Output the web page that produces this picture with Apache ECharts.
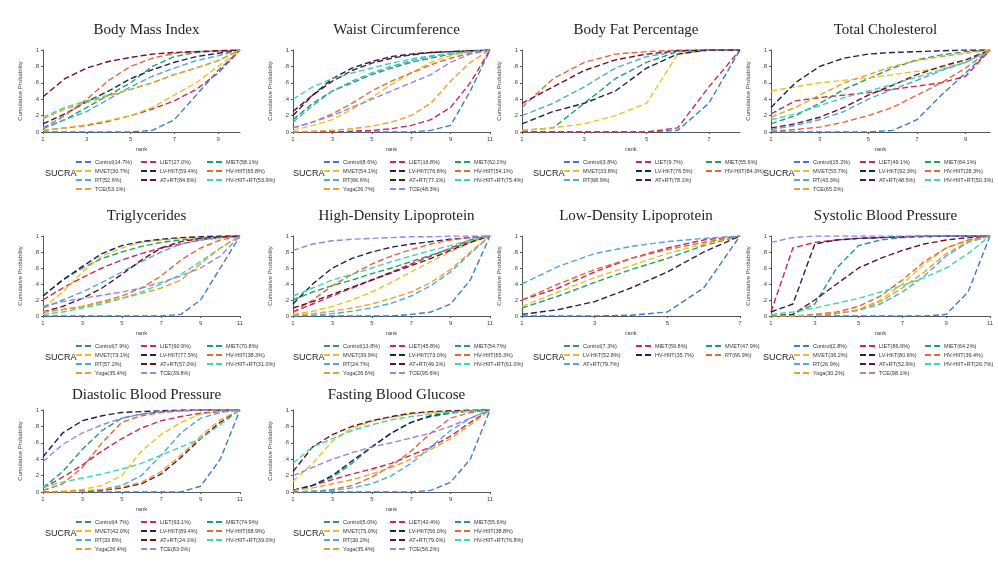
<!DOCTYPE html>
<html><head><meta charset="utf-8">
<script src="https://cdn.jsdelivr.net/npm/echarts@6/dist/echarts.min.js"></script>
<style>html,body{margin:0;background:#fff}#main{width:998px;height:564px}</style>
</head><body><div id="main"></div>
<script>
var slotColors = ['#3b7dc9', '#c8285a', '#1f9e6e', '#e6c520', '#1f1f5c', '#e2683a', '#4ea8da', '#6a0f2a', '#3fd6ae', '#e8a030', '#8f86e6'];

var titles = ['Body Mass Index', 'Waist Circumference', 'Body Fat Percentage', 'Total Cholesterol',
  'Triglycerides', 'High-Density Lipoprotein', 'Low-Density Lipoprotein', 'Systolic Blood Pressure',
  'Diastolic Blood Pressure', 'Fasting Blood Glucose'];

var legendBMI = ['Control(14.7%)', 'LIET(27.0%)', 'MIET(58.1%)', 'MVET(30.7%)', 'LV-HIIT(59.4%)', 'HV-HIIT(65.8%)', 'RT(52.6%)', 'AT+RT(84.6%)', 'HV-HIIT+RT(53.9%)', 'TCE(53.1%)'];
var legendWaist = ['Control(8.6%)', 'LIET(16.8%)', 'MIET(62.2%)', 'MVET(54.1%)', 'LV-HIIT(76.8%)', 'HV-HIIT(54.1%)', 'RT(66.6%)', 'AT+RT(77.1%)', 'HV-HIIT+RT(75.4%)', 'Yoga(26.7%)', 'TCE(48.3%)'];
var legendFat = ['Control(3.8%)', 'LIET(9.7%)', 'MIET(55.6%)', 'MVET(33.8%)', 'LV-HIIT(76.5%)', 'HV-HIIT(84.3%)', 'RT(68.9%)', 'AT+RT(78.1%)'];
var legendTC = ['Control(15.2%)', 'LIET(49.1%)', 'MIET(64.1%)', 'MVET(55.7%)', 'LV-HIIT(92.3%)', 'HV-HIIT(28.3%)', 'RT(43.3%)', 'AT+RT(48.5%)', 'HV-HIIT+RT(50.3%)', 'TCE(65.2%)'];
var legendTG = ['Control(7.9%)', 'LIET(60.9%)', 'MIET(70.8%)', 'MVET(73.1%)', 'LV-HIIT(77.5%)', 'HV-HIIT(38.3%)', 'RT(57.2%)', 'AT+RT(57.0%)', 'HV-HIIT+RT(31.0%)', 'Yoga(35.4%)', 'TCE(39.8%)'];
var legendHDL = ['Control(13.8%)', 'LIET(45.8%)', 'MIET(54.7%)', 'MVET(39.9%)', 'LV-HIIT(73.0%)', 'HV-HIIT(65.3%)', 'RT(24.7%)', 'AT+RT(49.1%)', 'HV-HIIT+RT(61.0%)', 'Yoga(26.6%)', 'TCE(95.6%)'];
var legendLDL = ['Control(7.3%)', 'MIET(59.8%)', 'MVET(47.9%)', 'LV-HIIT(52.8%)', 'HV-HIIT(35.7%)', 'RT(66.9%)', 'AT+RT(79.7%)'];
var legendSBP = ['Control(2.8%)', 'LIET(86.9%)', 'MIET(64.2%)', 'MVET(36.2%)', 'LV-HIIT(80.6%)', 'HV-HIIT(39.4%)', 'RT(26.9%)', 'AT+RT(52.9%)', 'HV-HIIT+RT(26.7%)', 'Yoga(30.2%)', 'TCE(98.1%)'];
var legendDBP = ['Control(4.7%)', 'LIET(63.1%)', 'MIET(74.9%)', 'MVET(42.0%)', 'LV-HIIT(89.4%)', 'HV-HIIT(68.9%)', 'RT(33.8%)', 'AT+RT(24.1%)', 'HV-HIIT+RT(39.0%)', 'Yoga(26.4%)', 'TCE(83.0%)'];
var legendFBG = ['Control(5.0%)', 'LIET(40.4%)', 'MIET(55.6%)', 'MVET(75.0%)', 'LV-HIIT(56.0%)', 'HV-HIIT(38.8%)', 'RT(30.2%)', 'AT+RT(79.0%)', 'HV-HIIT+RT(76.8%)', 'Yoga(35.4%)', 'TCE(56.2%)'];

var dataBMI = [
  [0,0,0,0,0,.02,.15,.45,.75,1],
  [.02,.05,.08,.13,.2,.28,.38,.52,.72,1],
  [.04,.15,.3,.45,.6,.8,.92,.97,.99,1],
  [.02,.05,.09,.14,.2,.3,.45,.6,.8,1],
  [.1,.22,.37,.5,.65,.76,.85,.92,.96,1],
  [.05,.2,.4,.63,.8,.9,.96,.98,.99,1],
  [.05,.15,.25,.4,.55,.68,.78,.87,.93,1],
  [.43,.65,.78,.86,.91,.95,.97,.98,.99,1],
  [.18,.3,.38,.45,.52,.6,.7,.78,.87,1],
  [.16,.28,.36,.44,.52,.6,.7,.78,.87,1]];
var dataWaist = [
  [0,0,0,0,0,0,0,.02,.08,.5,1],
  [0,0,0,.01,.02,.04,.08,.15,.3,.6,1],
  [.15,.35,.5,.6,.7,.78,.85,.9,.95,.98,1],
  [.02,.08,.15,.28,.42,.58,.72,.85,.93,.98,1],
  [.2,.45,.65,.78,.86,.92,.95,.97,.98,.99,1],
  [.05,.12,.22,.35,.5,.62,.72,.82,.9,.96,1],
  [.12,.32,.5,.62,.72,.8,.87,.92,.96,.98,1],
  [.25,.45,.62,.75,.84,.9,.94,.97,.98,.99,1],
  [.4,.55,.65,.72,.78,.84,.89,.93,.96,.98,1],
  [0,.01,.02,.04,.07,.12,.2,.35,.62,.85,1],
  [.05,.12,.2,.3,.4,.5,.6,.7,.85,.95,1]];
var dataFat = [
  [0,0,0,0,0,.02,.35,1],
  [0,0,0,0,0,.05,.55,1],
  [.02,.05,.35,.65,.85,.98,1,1],
  [.02,.05,.1,.2,.35,.95,1,1],
  [.1,.25,.35,.5,.78,.95,1,1],
  [.3,.65,.85,.95,.98,1,1,1],
  [.2,.35,.55,.78,.92,.98,1,1],
  [.35,.55,.75,.88,.95,.99,1,1]];
var dataTC = [
  [0,0,0,0,0,.02,.15,.45,.72,1],
  [.22,.38,.42,.45,.48,.52,.56,.6,.68,1],
  [.1,.2,.35,.52,.65,.78,.88,.94,.98,1],
  [.5,.55,.6,.63,.66,.7,.74,.78,.85,1],
  [.3,.6,.8,.9,.95,.97,.98,.99,1,1],
  [.01,.03,.06,.12,.2,.3,.45,.6,.78,1],
  [.03,.08,.15,.25,.4,.52,.63,.75,.85,1],
  [.05,.1,.18,.3,.45,.57,.7,.8,.88,1],
  [.15,.22,.32,.42,.5,.58,.67,.76,.85,1],
  [.18,.3,.45,.6,.7,.8,.87,.92,.96,1]];
var dataTG = [
  [0,0,0,0,0,0,0,.02,.2,.6,1],
  [.2,.35,.48,.6,.7,.78,.85,.9,.95,.98,1],
  [.25,.45,.6,.72,.8,.87,.92,.95,.97,.99,1],
  [.1,.3,.55,.75,.85,.92,.95,.97,.98,.99,1],
  [.25,.45,.62,.78,.88,.93,.96,.98,.99,1,1],
  [.05,.08,.12,.18,.25,.35,.5,.7,.85,.95,1],
  [.1,.2,.3,.42,.55,.68,.8,.9,.95,.98,1],
  [.05,.12,.22,.35,.52,.7,.85,.93,.97,.99,1],
  [.02,.05,.1,.15,.22,.3,.4,.52,.68,.85,1],
  [.05,.08,.12,.17,.22,.28,.35,.45,.65,.85,1],
  [.12,.18,.22,.26,.3,.35,.42,.5,.6,.75,1]];
var dataHDL = [
  [0,0,0,0,0,0,.02,.05,.15,.45,1],
  [.05,.15,.25,.35,.45,.55,.65,.75,.85,.95,1],
  [.2,.3,.38,.45,.53,.6,.68,.76,.84,.93,1],
  [.02,.06,.12,.2,.3,.42,.55,.68,.8,.92,1],
  [.15,.4,.6,.72,.8,.86,.9,.93,.96,.98,1],
  [.05,.2,.38,.52,.65,.75,.83,.9,.95,.98,1],
  [0,.01,.03,.06,.1,.16,.25,.38,.55,.78,1],
  [.1,.18,.27,.36,.45,.54,.63,.72,.82,.92,1],
  [.25,.35,.45,.52,.6,.68,.75,.82,.88,.95,1],
  [.01,.03,.06,.1,.15,.22,.3,.42,.58,.8,1],
  [.82,.9,.94,.96,.97,.98,.99,.99,1,1,1]];
var dataLDL = [
  [0,0,0,.01,.05,.35,1],
  [.2,.35,.55,.72,.85,.95,1],
  [.1,.25,.42,.58,.72,.88,1],
  [.12,.3,.48,.63,.78,.9,1],
  [.02,.08,.18,.35,.55,.8,1],
  [.2,.4,.58,.72,.83,.92,1],
  [.4,.62,.78,.87,.93,.97,1]];
var dataSBP = [
  [0,0,0,0,0,0,0,0,.02,.3,1],
  [.05,.85,.92,.95,.97,.98,.99,1,1,1,1],
  [0,.02,.15,.6,.88,.95,.98,.99,1,1,1],
  [0,0,.01,.03,.08,.2,.4,.65,.85,.95,1],
  [.05,.15,.9,.95,.97,.98,.99,1,1,1,1],
  [0,0,.02,.05,.12,.25,.45,.68,.85,.95,1],
  [0,0,.01,.03,.07,.15,.3,.5,.75,.92,1],
  [0,.02,.2,.4,.6,.72,.82,.9,.95,.98,1],
  [.02,.05,.1,.16,.22,.3,.38,.48,.6,.78,1],
  [0,0,.01,.03,.08,.18,.35,.55,.78,.93,1],
  [.92,.98,1,1,1,1,1,1,1,1,1]];
var dataDBP = [
  [0,0,0,0,0,0,0,0,.07,.4,1],
  [.05,.18,.33,.5,.65,.78,.87,.92,.96,.98,1],
  [.05,.25,.52,.75,.9,.95,.98,.99,1,1,1],
  [0,.01,.03,.08,.2,.5,.7,.85,.95,.98,1],
  [.43,.72,.87,.93,.97,.98,.99,1,1,1,1],
  [.02,.1,.3,.6,.85,.93,.97,.99,1,1,1],
  [0,0,.01,.03,.08,.2,.45,.72,.9,.97,1],
  [0,0,.01,.02,.05,.1,.22,.42,.65,.85,1],
  [.06,.12,.17,.22,.28,.35,.45,.55,.65,.82,1],
  [0,0,.01,.03,.06,.12,.25,.45,.68,.88,1],
  [.37,.58,.72,.82,.9,.95,.98,.99,1,1,1]];
var dataFBG = [
  [0,0,0,0,0,0,0,.02,.12,.4,1],
  [.02,.08,.15,.22,.28,.35,.45,.55,.68,.85,1],
  [.02,.08,.18,.35,.55,.72,.85,.92,.96,.99,1],
  [.13,.35,.62,.78,.86,.91,.95,.97,.98,.99,1],
  [.02,.08,.2,.38,.55,.72,.85,.93,.97,.99,1],
  [0,.01,.03,.08,.18,.32,.5,.72,.9,.97,1],
  [0,.01,.02,.05,.1,.2,.35,.55,.75,.9,1],
  [.25,.55,.7,.8,.87,.92,.96,.98,.99,1,1],
  [.35,.55,.65,.75,.82,.88,.92,.95,.97,.99,1],
  [.02,.05,.1,.15,.22,.3,.4,.52,.65,.82,1],
  [.2,.3,.4,.48,.55,.6,.66,.72,.8,.9,1]];

var legends = [legendBMI, legendWaist, legendFat, legendTC, legendTG, legendHDL, legendLDL, legendSBP, legendDBP, legendFBG];
var datas = [dataBMI, dataWaist, dataFat, dataTC, dataTG, dataHDL, dataLDL, dataSBP, dataDBP, dataFBG];

var colLeft = [43, 293, 522, 771];
var colRight = [240, 490, 740, 990];
var rowTop = [50, 236, 410];
var rowBottom = [132, 316, 492];
var rowTitle = [18, 204, 383];
var legOff = [[32, 97, 163], [30, 96, 161], [41, 113, 183], [22, 88, 153]];

var option = { animation: false, title: [], grid: [], xAxis: [], yAxis: [], series: [], legend: [], graphic: [] };

titles.forEach(function (t, p) {
  var c = p % 4, r = Math.floor(p / 4);
  var n = datas[p][0].length;
  var ranks = [];
  for (var i = 1; i <= n; i++) ranks.push(String(i));
  option.title.push({ text: t, left: (colLeft[c] + colRight[c]) / 2, top: rowTitle[r], textAlign: 'center',
    textStyle: { fontFamily: 'Liberation Serif', fontSize: 15, fontWeight: 'normal', color: '#222' } });
  option.grid.push({ left: colLeft[c], width: colRight[c] - colLeft[c], top: rowTop[r], height: rowBottom[r] - rowTop[r] });
  option.xAxis.push({ type: 'category', gridIndex: p, data: ranks, boundaryGap: false,
    name: 'rank', nameLocation: 'middle', nameGap: 14, nameTextStyle: { fontSize: 6, color: '#444' },
    axisLine: { lineStyle: { color: '#555' } }, axisTick: { interval: 1, length: 2 },
    axisLabel: { interval: 1, fontSize: 6, color: '#444', margin: 4 }, splitLine: { show: false } });
  option.yAxis.push({ type: 'value', gridIndex: p, min: 0, max: 1, interval: 0.2,
    name: 'Cumulative Probability', nameLocation: 'middle', nameGap: 20, nameTextStyle: { fontSize: 6, color: '#444' },
    axisLine: { show: true, lineStyle: { color: '#555' } }, axisTick: { show: true, length: 2 },
    axisLabel: { fontSize: 6, color: '#444', margin: 4, formatter: function (v) { return v === 0 ? '0' : v === 1 ? '1' : String(v).replace('0.', '.'); } },
    splitLine: { show: false } });
  var names = legends[p];
  names.forEach(function (nm, k) {
    option.series.push({ type: 'line', name: nm, xAxisIndex: p, yAxisIndex: p, data: datas[p][k],
      symbol: 'none', color: slotColors[k], lineStyle: { type: [6, 3], width: 1.4 } });
  });
  var legTop = rowBottom[r] + 27;
  for (var col = 0; col < 3; col++) {
    var items = names.filter(function (_, k) { return k % 3 === col; });
    option.legend.push({ data: items, orient: 'vertical', left: colLeft[c] + legOff[c][col], top: legTop,
      itemWidth: 16, itemHeight: 6, itemGap: 3, padding: 0, itemStyle: { opacity: 0 },
      textStyle: { fontSize: 5.5, color: '#333', padding: [0, 0, 0, -2] } });
  }
  option.graphic.push({ type: 'text', left: colLeft[c] + legOff[c][0] - 30, top: legTop + 10,
    style: { text: 'SUCRA', fontSize: 9, fill: '#222' } });
});

var chart = echarts.init(document.getElementById('main'));
chart.setOption(option);
</script>
</body></html>
